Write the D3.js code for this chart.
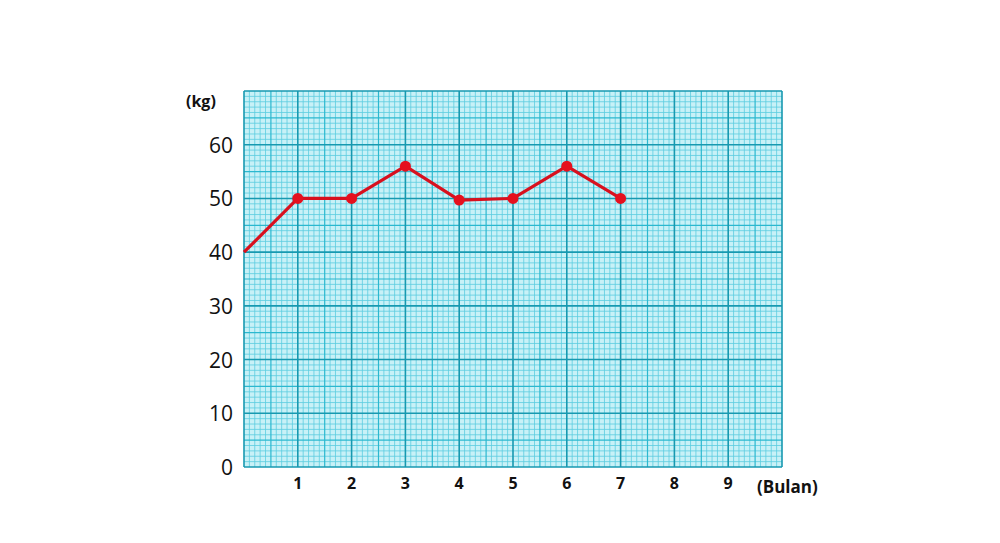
<!DOCTYPE html>
<html><head><meta charset="utf-8">
<script src="https://cdn.jsdelivr.net/npm/d3@7"></script>
<style>body{margin:0;background:#fff}svg{display:block}</style>
</head><body>
<svg id="c" width="1000" height="543"></svg>
<script>
const months = [0,1,2,3,4,5,6,7];
const weights = [40,50,50,56,49.7,50,56,50];
const xTicks = [1,2,3,4,5,6,7,8,9];
const yTicks = [0,10,20,30,40,50,60];

const svg = d3.select("#c");
const x = d3.scaleLinear().domain([0,10]).range([244,782]);
const y = d3.scaleLinear().domain([0,70]).range([467,91]);

const g = svg.append("g");
g.append("rect").attr("x",x(0)).attr("y",y(70)).attr("width",x(10)-x(0)).attr("height",y(0)-y(70)).attr("fill","#c8f1f7");

const xMinor = d3.range(0,101).map(d=>d/10);
const yMinor = d3.range(0,71);
function lvlX(v){ const i=Math.round(v*10); return i%10===0?2:(i%5===0?1:0); }
function lvlY(v){ return v%10===0?2:(v%5===0?1:0); }
const styles = [
  {c:"#5ccde0", w:0.8},
  {c:"#2bb8cf", w:1.2},
  {c:"#1799b0", w:1.6}
];
[0,1,2].forEach(L=>{
  g.selectAll(null).data(xMinor.filter(v=>lvlX(v)===L)).enter().append("line")
    .attr("x1",d=>x(d)).attr("x2",d=>x(d)).attr("y1",y(70)).attr("y2",y(0))
    .attr("stroke",styles[L].c).attr("stroke-width",styles[L].w);
  g.selectAll(null).data(yMinor.filter(v=>lvlY(v)===L)).enter().append("line")
    .attr("y1",d=>y(d)).attr("y2",d=>y(d)).attr("x1",x(0)).attr("x2",x(10))
    .attr("stroke",styles[L].c).attr("stroke-width",styles[L].w);
});

svg.selectAll(".yl").data(yTicks).enter().append("text")
  .attr("x",233).attr("y",d=>y(d)+8).attr("text-anchor","end")
  .attr("font-family","Open Sans, sans-serif").attr("font-size",21).attr("fill","#111")
  .text(d=>d);
svg.selectAll(".xl").data(xTicks).enter().append("text")
  .attr("x",d=>x(d)).attr("y",489).attr("text-anchor","middle")
  .attr("font-family","Open Sans, sans-serif").attr("font-weight","bold").attr("font-size",16).attr("fill","#111")
  .text(d=>d);
svg.append("text").attr("x",186).attr("y",107).attr("font-family","Open Sans, sans-serif")
  .attr("font-weight","bold").attr("font-size",16).attr("fill","#111").text("(kg)");
svg.append("text").attr("x",757).attr("y",493).attr("font-family","Open Sans, sans-serif")
  .attr("font-weight","bold").attr("font-size",17).attr("fill","#111").text("(Bulan)");

const line = d3.line().x((d,i)=>x(months[i])).y(d=>y(d));
svg.append("path").datum(weights).attr("d",line).attr("fill","none")
  .attr("stroke","#d8101e").attr("stroke-width",3.2).attr("stroke-linejoin","round");
svg.selectAll(".pt").data(weights.slice(1)).enter().append("circle")
  .attr("cx",(d,i)=>x(months[i+1])).attr("cy",d=>y(d)).attr("r",5.5).attr("fill","#e5101e");
</script>
</body></html>
